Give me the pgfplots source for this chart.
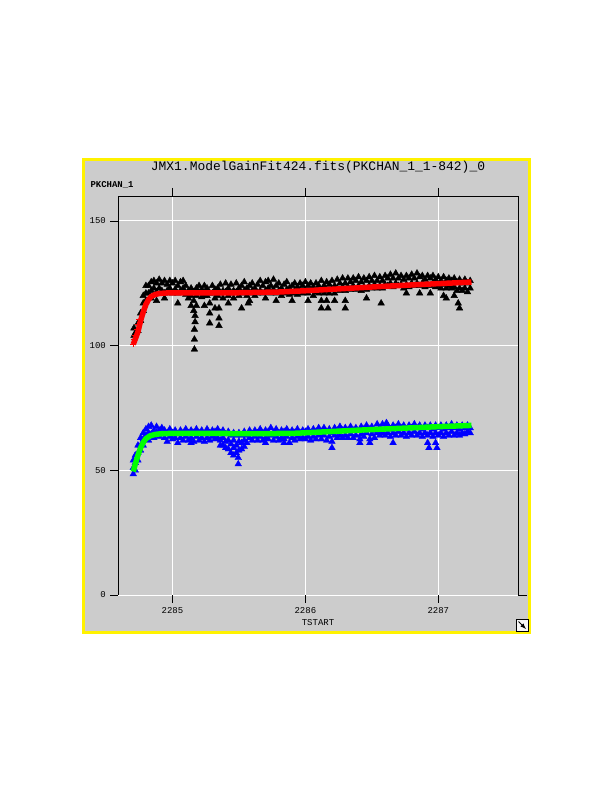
\documentclass[border=0pt]{standalone}
\usepackage{pgfplots}
\pgfplotsset{compat=1.18}
\usepackage{fontspec}
\setmainfont{Liberation Mono}

\definecolor{panelgray}{RGB}{204,204,204}
\definecolor{pureblue}{RGB}{0,0,255}
\definecolor{puregreen}{RGB}{0,255,0}
\definecolor{purered}{RGB}{255,0,0}

\begin{document}
\begin{tikzpicture}
% page and panel
\path[use as bounding box, fill=white] (0bp,0bp) rectangle (612bp,792bp);
\draw[yellow, line width=3bp, fill=panelgray] (83.5bp,159.5bp) rectangle (529.5bp,632.5bp);

\begin{axis}[
  at={(118bp,197bp)}, anchor=south west,
  scale only axis, width=400bp, height=399bp,
  xmin=2284.59, xmax=2287.60,
  ymin=0, ymax=160,
  xtick={2285,2286,2287}, ytick={0,50,100,150},
  xticklabels={2285,2286,2287},
  ytick pos=left,
  tick align=outside,
  major tick length=8bp,
  every tick/.style={black, line width=0.8bp},
  grid=major,
  major grid style={white, line width=0.9bp},
  axis line style={draw=none},
  /pgf/number format/assume math mode=true,
  ticklabel style={font=\fontsize{9}{10}\selectfont, inner sep=0pt},
  xticklabel style={anchor=center, yshift=-8bp},
  yticklabel style={anchor=east, xshift=-4bp},
  title={JMX1.ModelGainFit424.fits(PKCHAN\_1\_1-842)\_0},
  every axis title/.style={at={(axis description cs:0.5,1)}, anchor=center, yshift=29bp, font=\fontsize{13}{15}\selectfont},
  xlabel={TSTART},
  every axis x label/.style={at={(axis description cs:0.5,0)}, anchor=center, yshift=-28bp, font=\fontsize{9}{10}\selectfont},
  ylabel={PKCHAN\_1},
  every axis y label/.style={at={(axis description cs:0,1)}, anchor=west, xshift=-31bp, yshift=11bp, font=\bfseries\fontsize{9}{10}\selectfont},
  clip=false,
  clip marker paths=true,
]
% black triangles
\addplot[black, only marks, mark=triangle*, mark size=3.8bp] coordinates {
(2284.71,104)(2284.71,107)(2284.72,105)
(2284.74,109)(2284.74,106)
(2284.76,113)(2284.76,110)
(2284.78,117)(2284.78,114)(2284.78,120)
(2284.80,121)(2284.80,118)(2284.80,124)
(2284.82,124)(2284.82,121)
(2284.84,125.5)(2284.84,122)(2284.84,119)
(2284.86,126)(2284.86,123)
(2284.88,125)(2284.88,121.5)(2284.88,118)
(2284.90,126.5)(2284.90,123)
(2284.92,125)(2284.92,122)
(2284.94,126)(2284.94,121)(2284.94,119)
(2284.96,124.5)(2284.96,122)
(2284.98,126)(2284.98,123)
(2285.00,125)(2285.00,121)
(2285.02,126)(2285.02,122.5)
(2285.04,124)(2285.04,121)(2285.04,117)
(2285.06,125.5)(2285.06,122)
(2285.08,126)(2285.08,123)
(2285.10,124)(2285.10,120.5)
(2285.12,122)(2285.12,119)
(2285.14,123)(2285.14,120)(2285.14,116)
(2285.16,121.5)(2285.16,118)(2285.16,114)
(2285.165,98.5)(2285.165,102.5)(2285.165,106.5)(2285.17,109.5)(2285.17,112)
(2285.18,123)(2285.18,120)(2285.18,116)
(2285.20,124)(2285.20,121)
(2285.22,122.5)(2285.22,119.5)
(2285.24,124)(2285.24,120)(2285.24,116)
(2285.26,123)(2285.26,120)
(2285.28,121)(2285.28,117)(2285.28,113)(2285.28,109)
(2285.30,124)(2285.30,121)
(2285.32,122.5)(2285.32,119)(2285.32,115)
(2285.34,123)(2285.34,120)
(2285.35,111)(2285.35,108)(2285.35,115)
(2285.36,124.5)(2285.36,121)
(2285.38,122)(2285.38,119)
(2285.40,125)(2285.40,121.5)
(2285.42,123)(2285.42,120)(2285.42,117)
(2285.44,124.5)(2285.44,121)
(2285.46,122)(2285.46,119)
(2285.48,125)(2285.48,121.5)
(2285.50,123)(2285.50,120)
(2285.52,124)(2285.52,121)(2285.52,115)
(2285.54,125.5)(2285.54,122)
(2285.56,123)(2285.56,120)
(2285.57,117)
(2285.58,124)(2285.58,121)(2285.58,118)
(2285.60,125)(2285.60,122)
(2285.62,123)(2285.62,120)
(2285.64,124.5)(2285.64,121)
(2285.66,126)(2285.66,122)
(2285.68,124)(2285.68,121)
(2285.70,125.5)(2285.70,122)(2285.70,119)
(2285.72,126)(2285.72,123)
(2285.74,124)(2285.74,121)
(2285.76,126.5)(2285.76,122.5)
(2285.78,124)(2285.78,121)(2285.78,118)
(2285.80,125)(2285.80,122)
(2285.82,123)(2285.82,120)
(2285.84,124.5)(2285.84,121)
(2285.86,125.5)(2285.86,122.5)
(2285.88,123)(2285.88,120.5)
(2285.90,124)(2285.90,121)(2285.90,118)
(2285.92,125)(2285.92,122)
(2285.94,123.5)(2285.94,120.5)
(2285.96,125)(2285.96,122)
(2285.98,124)(2285.98,121)
(2286.00,125.5)(2286.00,122)
(2286.02,124)(2286.02,121)(2286.02,118)
(2286.04,125)(2286.04,122)
(2286.06,123.5)(2286.06,120)
(2286.08,125)(2286.08,121.5)
(2286.10,124)(2286.10,121)
(2286.12,126)(2286.12,122)(2286.12,118)(2286.12,115)
(2286.14,124)(2286.14,121)
(2286.16,125.5)(2286.16,122)(2286.16,118)
(2286.17,115)
(2286.18,124.5)(2286.18,121)
(2286.20,126)(2286.20,122.5)
(2286.22,124)(2286.22,121)(2286.22,118)
(2286.24,126.5)(2286.24,123)
(2286.26,125)(2286.26,122)
(2286.28,127)(2286.28,123.5)
(2286.30,125)(2286.30,122)(2286.30,118)(2286.30,115)
(2286.32,127)(2286.32,123.5)
(2286.34,125.5)(2286.34,122.5)
(2286.36,127)(2286.36,124)
(2286.38,126)(2286.38,122.5)
(2286.40,127.5)(2286.40,124)
(2286.42,125.5)(2286.42,122)
(2286.44,127)(2286.44,123.5)
(2286.46,126)(2286.46,122.5)(2286.46,119)
(2286.48,127.5)(2286.48,124)
(2286.50,126)(2286.50,123)
(2286.52,128)(2286.52,124.5)
(2286.54,126)(2286.54,123)
(2286.56,127.5)(2286.56,124)
(2286.57,117)
(2286.58,126)(2286.58,123)
(2286.60,128)(2286.60,124.5)
(2286.62,127)(2286.62,124)
(2286.64,128.5)(2286.64,125)
(2286.66,127)(2286.66,123.5)
(2286.68,129)(2286.68,125)
(2286.70,127)(2286.70,124)
(2286.72,128)(2286.72,124.5)
(2286.74,126.5)(2286.74,123)
(2286.76,128)(2286.76,124.5)(2286.76,121)
(2286.78,127)(2286.78,123.5)
(2286.80,128.5)(2286.80,125)
(2286.82,127)(2286.82,124)
(2286.84,129)(2286.84,125)
(2286.86,127.5)(2286.86,124)(2286.86,121)
(2286.88,128)(2286.88,125)
(2286.90,126.5)(2286.90,123.5)
(2286.92,128)(2286.92,124.5)
(2286.94,127)(2286.94,124)(2286.94,121)
(2286.96,128)(2286.96,125)
(2286.98,126.5)(2286.98,123.5)
(2287.00,127.5)(2287.00,124)
(2287.02,126)(2287.02,123)
(2287.04,127.5)(2287.04,124.5)(2287.04,120)
(2287.06,126)(2287.06,123)(2287.06,119)
(2287.08,127)(2287.08,124)
(2287.10,126)(2287.10,123)
(2287.12,127)(2287.12,123.5)(2287.12,120)
(2287.14,125.5)(2287.14,122)
(2287.15,117)(2287.16,115)
(2287.16,126.5)(2287.16,123)
(2287.18,125)(2287.18,122)
(2287.20,126.5)(2287.20,123)
(2287.22,125)(2287.22,121.5)
(2287.24,126)(2287.24,123)
};
% red fit
\addplot[purered, line width=5.5bp] coordinates {
(2284.705,100.5)(2284.74,105.5)(2284.76,110)(2284.78,113.5)(2284.80,116.5)
(2284.82,118.5)(2284.84,119.7)(2284.87,120.5)(2284.90,120.9)(2284.95,121.1)
(2285.2,121.2)(2285.5,121.2)(2285.8,121.5)(2286.0,122.0)(2286.3,122.9)
(2286.6,123.8)(2286.9,124.6)(2287.1,125.1)(2287.25,125.5)
};
\addplot[purered, only marks, mark=+, mark size=2.8bp, line width=0.9bp] coordinates {
(2284.705,100.5)(2284.71,102.5)(2284.72,104)(2284.73,106.5)(2284.74,108.5)(2284.75,110.5)
};
% blue triangles
\addplot[pureblue, only marks, mark=triangle*, mark size=3.8bp] coordinates {
(2284.705,51)(2284.705,54)(2284.705,48.5)
(2284.72,53)(2284.72,56)(2284.72,50)
(2284.74,57)(2284.74,60)(2284.74,54)
(2284.76,60)(2284.76,63)(2284.76,58)
(2284.78,62.5)(2284.78,65)(2284.78,60)
(2284.80,64)(2284.80,66.5)
(2284.82,65)(2284.82,67.5)(2284.82,62)
(2284.84,64.5)(2284.84,68)
(2284.86,66)(2284.86,63)
(2284.88,65)(2284.88,67.5)
(2284.90,66)(2284.90,63.5)
(2284.92,64.5)(2284.92,67)
(2284.94,66)(2284.94,63)
(2284.96,65)(2284.96,61.5)
(2284.98,66.5)(2284.98,63.5)
(2285.00,65)(2285.00,62.5)
(2285.02,66)(2285.02,63)
(2285.04,64.5)(2285.04,61)
(2285.06,66)(2285.06,63)
(2285.08,65)(2285.08,62)
(2285.10,66.5)(2285.10,63.5)
(2285.12,65)(2285.12,62)
(2285.14,66)(2285.14,63)(2285.14,61)
(2285.16,65)(2285.16,61.5)
(2285.18,66.5)(2285.18,63.5)
(2285.20,65)(2285.20,62)
(2285.22,66)(2285.22,63)
(2285.24,64.5)(2285.24,61.5)
(2285.26,66.5)(2285.26,63)
(2285.28,65)(2285.28,62)
(2285.30,66)(2285.30,63.5)
(2285.32,65.5)(2285.32,62.5)
(2285.34,66.5)(2285.34,63)
(2285.36,65)(2285.36,62)(2285.36,60)
(2285.38,66)(2285.38,63)(2285.38,60)
(2285.40,64.5)(2285.40,61.5)(2285.40,59)
(2285.42,65.5)(2285.42,62)(2285.42,58.5)
(2285.44,64)(2285.44,60.5)(2285.44,57)
(2285.46,65)(2285.46,62)(2285.46,59)(2285.46,56)
(2285.48,64)(2285.48,60)(2285.48,57)
(2285.495,55)(2285.495,52.5)
(2285.50,65)(2285.50,61.5)(2285.50,58)
(2285.52,64)(2285.52,61)(2285.52,58.5)
(2285.54,65.5)(2285.54,62)(2285.54,59.5)
(2285.56,64)(2285.56,61)
(2285.58,66)(2285.58,63)
(2285.60,64.5)(2285.60,62)
(2285.62,66)(2285.62,63.5)
(2285.64,65)(2285.64,62)
(2285.66,66.5)(2285.66,63.5)
(2285.68,65)(2285.68,62)
(2285.70,66)(2285.70,63)(2285.70,61)
(2285.72,65.5)(2285.72,62.5)
(2285.74,67)(2285.74,64)
(2285.76,65)(2285.76,62)
(2285.78,66.5)(2285.78,63.5)
(2285.80,65)(2285.80,62)
(2285.82,66)(2285.82,63)
(2285.84,65.5)(2285.84,62.5)(2285.84,61)
(2285.86,66.5)(2285.86,63.5)
(2285.88,65)(2285.88,61)
(2285.90,66)(2285.90,63)
(2285.92,65)(2285.92,62)
(2285.94,66.5)(2285.94,63.5)
(2285.96,65)(2285.96,62.5)
(2285.98,66)(2285.98,63)
(2286.00,65.5)(2286.00,62.5)
(2286.02,66.5)(2286.02,63.5)
(2286.04,65)(2286.04,62)
(2286.06,66.5)(2286.06,63.5)
(2286.08,65.5)(2286.08,62.5)
(2286.10,67)(2286.10,64)
(2286.12,65.5)(2286.12,62.5)
(2286.14,67)(2286.14,64)
(2286.16,65.5)(2286.16,62)
(2286.18,66.5)(2286.18,63.5)
(2286.20,65)(2286.20,61.5)(2286.20,59)
(2286.22,67)(2286.22,64)
(2286.24,66)(2286.24,63)
(2286.26,67.5)(2286.26,64)
(2286.28,66)(2286.28,63)
(2286.30,67)(2286.30,64)
(2286.32,66)(2286.32,63)
(2286.34,67.5)(2286.34,64.5)
(2286.36,66)(2286.36,63)
(2286.38,67)(2286.38,64)
(2286.41,66)(2286.41,62.5)(2286.41,61)
(2286.42,67.5)(2286.42,64.5)
(2286.44,66.5)(2286.44,63.5)
(2286.46,68)(2286.46,65)
(2286.485,66.5)(2286.485,62.5)(2286.485,61)
(2286.50,67.5)(2286.50,64.5)
(2286.52,66)(2286.52,63)
(2286.54,68.5)(2286.54,65)
(2286.56,67)(2286.56,64)
(2286.58,68.5)(2286.58,65)
(2286.61,69)(2286.60,64)
(2286.62,68)(2286.62,65)
(2286.64,66.5)(2286.64,63.5)
(2286.66,68)(2286.66,65)(2286.66,61)
(2286.68,67)(2286.68,64)
(2286.70,68.5)(2286.70,65.5)
(2286.72,67)(2286.72,64)
(2286.74,68)(2286.74,65)
(2286.76,66.5)(2286.76,63.5)
(2286.78,68)(2286.78,65)
(2286.80,67)(2286.80,64)
(2286.82,68.5)(2286.82,65.5)
(2286.84,67)(2286.84,64)
(2286.86,68)(2286.86,65)
(2286.88,66.5)(2286.88,63.5)
(2286.90,68)(2286.90,65)
(2286.92,67)(2286.92,64)(2286.92,61)(2286.93,59)
(2286.94,68)(2286.94,65)
(2286.96,66.5)(2286.96,63.5)
(2286.98,68)(2286.98,65)(2286.98,61)(2286.99,59)
(2287.00,67)(2287.00,64)
(2287.02,68)(2287.02,65)
(2287.04,66.5)(2287.04,63.5)
(2287.06,68)(2287.06,65)
(2287.08,67)(2287.08,64)
(2287.10,68.5)(2287.10,65.5)
(2287.12,67)(2287.12,64)
(2287.14,68)(2287.14,65)
(2287.16,66.5)(2287.16,64)
(2287.18,68)(2287.18,65)
(2287.20,67)(2287.20,64.5)
(2287.22,68)(2287.22,65.5)
(2287.24,67)(2287.24,65)
};
% green fit
\addplot[puregreen, line width=5.5bp] coordinates {
(2284.705,49.5)(2284.72,52.5)(2284.74,56)(2284.76,59)(2284.78,61.2)
(2284.80,62.7)(2284.83,63.8)(2284.87,64.4)(2284.92,64.7)(2285.0,64.8)
(2285.3,64.8)(2285.6,64.7)(2285.9,64.8)(2286.1,65.3)(2286.4,66.1)
(2286.7,66.8)(2287.0,67.5)(2287.25,68.0)
};
% frame: left, top, right, with the short foot at lower right
\draw[black, line width=0.9bp] (rel axis cs:0,0) -- (rel axis cs:0,1) -- (rel axis cs:1,1) -- (rel axis cs:1,0) -- ([xshift=9bp]rel axis cs:1,0);
\end{axis}

% resize icon at lower right
\draw[black, line width=0.6bp, fill=white!85!panelgray] (516bp,161bp) rectangle (528bp,173bp);
\draw[black, line width=1bp, -latex] (518.5bp,170.5bp) -- (526bp,163bp);
\end{tikzpicture}
\end{document}
